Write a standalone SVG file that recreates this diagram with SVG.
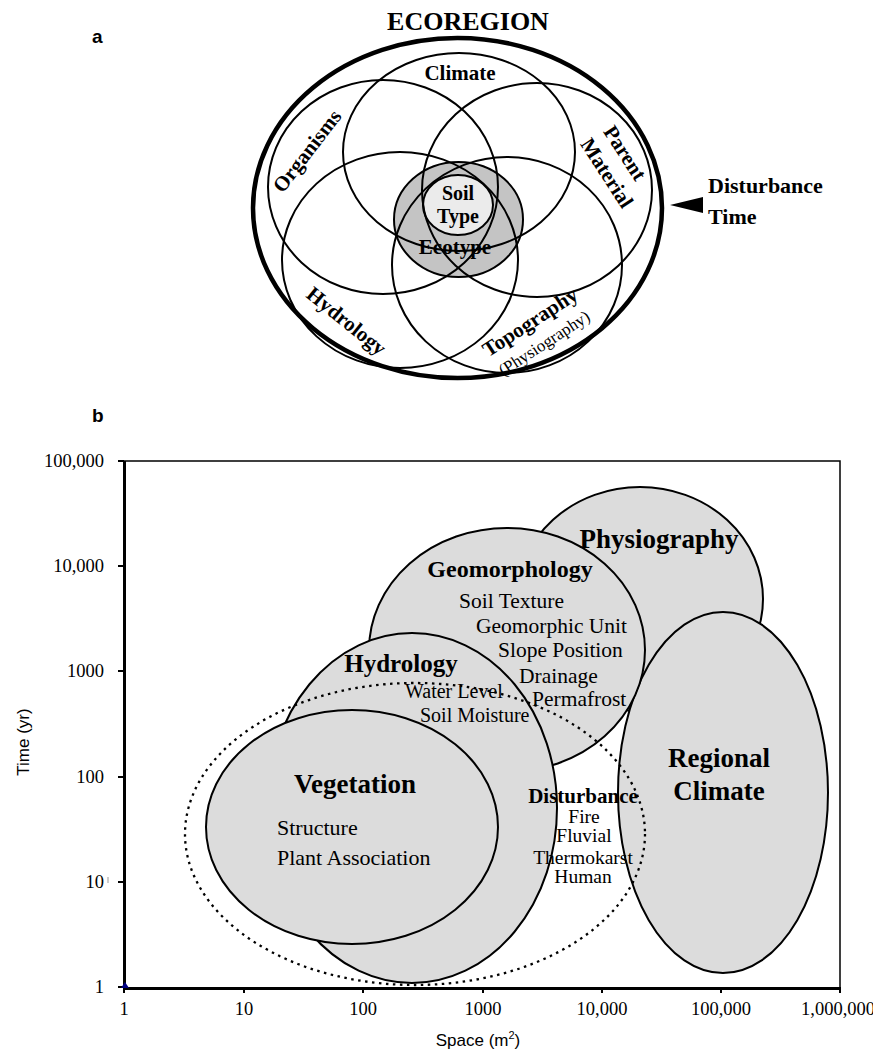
<svg xmlns="http://www.w3.org/2000/svg" width="873" height="1051" viewBox="0 0 873 1051">
<style>
.serif{font-family:"Liberation Serif","Times New Roman",serif;fill:#000}
.b{font-weight:bold}
.sans{font-family:"Liberation Sans",Arial,sans-serif;fill:#000}
.ring{fill:none;stroke:#000;stroke-width:2}
.blob{fill:#dcdcdc;stroke:#000;stroke-width:2}
.tick{stroke:#000;stroke-width:2}
.mid{text-anchor:middle}
.end{text-anchor:end}
</style>
<rect width="873" height="1051" fill="#fff"/>

<text class="sans b" x="92" y="43" font-size="19">a</text>
<text class="sans b" x="92" y="422" font-size="19">b</text>

<!-- Panel a -->
<g id="ecotype"><ellipse cx="458.5" cy="219.5" rx="64.5" ry="57.5" fill="#c4c4c4" stroke="#000" stroke-width="2"/></g>
<g id="soil-type"><ellipse cx="458" cy="205" rx="35" ry="30" fill="#ebebeb" stroke="#000" stroke-width="2"/></g>
<g id="climate"><ellipse class="ring" cx="459" cy="152" rx="116" ry="99"/></g>
<g id="organisms"><ellipse class="ring" cx="383" cy="187" rx="115" ry="107"/></g>
<g id="parent-material"><ellipse class="ring" cx="537" cy="190" rx="115" ry="107"/></g>
<g id="hydrology-a"><ellipse class="ring" cx="400" cy="260" rx="118" ry="108"/></g>
<g id="topography"><ellipse class="ring" cx="507" cy="265" rx="115" ry="108"/></g>
<g id="ecoregion"><ellipse cx="457.5" cy="208" rx="204.5" ry="170" fill="none" stroke="#000" stroke-width="4.5"/></g>

<g id="labels-a">
<text class="serif b mid" x="468" y="30" font-size="26">ECOREGION</text>
<text class="serif b mid" x="460" y="80" font-size="21">Climate</text>
<text class="serif b mid" font-size="21" transform="translate(307,151) rotate(-52.4)" y="7">Organisms</text>
<g transform="translate(616,163) rotate(57)">
<text class="serif b mid" x="-3.5" y="-6" font-size="21">Parent</text>
<text class="serif b mid" x="3.5" y="20" font-size="21">Material</text>
</g>
<text class="serif b mid" font-size="21" transform="translate(346.5,321) rotate(38.8)" y="7">Hydrology</text>
<text class="serif b mid" font-size="21" transform="translate(530,322) rotate(-33)" y="7">Topography</text>
<text class="serif mid" font-size="17" transform="translate(544,343) rotate(-33)" y="6">(Physiography)</text>
<text class="serif b mid" x="458" y="200" font-size="20">Soil</text>
<text class="serif b mid" x="458" y="223" font-size="20">Type</text>
<text class="serif b mid" x="455" y="254" font-size="21">Ecotype</text>
</g>

<g id="disturbance-time">
<polygon points="670,205 703,197 703,213" fill="#000"/>
<text class="serif b" x="708" y="193" font-size="22">Disturbance</text>
<text class="serif b" x="708" y="224" font-size="22">Time</text>
</g>

<!-- Panel b -->
<g id="physiography"><ellipse class="blob" cx="640" cy="599" rx="123" ry="112"/></g>
<g id="regional-climate"><ellipse class="blob" cx="723" cy="792.5" rx="105" ry="180.5"/></g>
<g id="geomorphology"><ellipse class="blob" cx="507" cy="650" rx="138" ry="122"/></g>
<g id="hydrology-b"><ellipse class="blob" cx="412" cy="808" rx="145" ry="175"/></g>
<g id="vegetation"><ellipse class="blob" cx="352" cy="827" rx="146" ry="117"/></g>

<g id="labels-b">
<text class="serif b mid" x="659" y="548" font-size="27">Physiography</text>
<text class="serif b mid" x="510" y="577" font-size="24">Geomorphology</text>
<text class="serif" x="459" y="608" font-size="21.5">Soil Texture</text>
<text class="serif" x="476" y="633" font-size="21.5">Geomorphic Unit</text>
<text class="serif" x="498" y="657" font-size="21.5">Slope Position</text>
<text class="serif" x="519" y="683" font-size="21.5">Drainage</text>
<text class="serif" x="532" y="706" font-size="21.5">Permafrost</text>
<text class="serif b mid" x="401" y="672" font-size="25">Hydrology</text>
<text class="serif" x="405" y="698" font-size="20">Water Level</text>
<text class="serif" x="420" y="722" font-size="20">Soil Moisture</text>
<text class="serif b mid" x="355" y="793" font-size="27">Vegetation</text>
<text class="serif" x="277" y="835" font-size="22">Structure</text>
<text class="serif" x="277" y="865" font-size="22">Plant Association</text>
<text class="serif b mid" x="583" y="803" font-size="21">Disturbance</text>
<text class="serif mid" x="584" y="823" font-size="19.5">Fire</text>
<text class="serif mid" x="584" y="842" font-size="19.5">Fluvial</text>
<text class="serif mid" x="583" y="864" font-size="19.5">Thermokarst</text>
<text class="serif mid" x="583" y="883" font-size="19.5">Human</text>
<text class="serif b mid" x="719" y="767" font-size="27">Regional</text>
<text class="serif b mid" x="719" y="800" font-size="27">Climate</text>
</g>

<g id="disturbance-extent"><ellipse cx="415" cy="834" rx="230" ry="151" fill="none" stroke="#000" stroke-width="2.3" stroke-dasharray="2.5 4.5"/></g>

<g id="axes">
<path d="M124,461 H840 V987" fill="none" stroke="#000" stroke-width="1.5"/>
<path d="M124.5,461 V988.5 H840" fill="none" stroke="#000" stroke-width="3"/>
<path class="tick" d="M118,461H124M118,566H124M118,671H124M118,777H124M118,882H124M118,987H124"/>
<path class="tick" d="M124,987V993M244,987V993M363,987V993M483,987V993M602,987V993M721,987V993M840,987V993"/>
<polygon points="125,982 121,988 129,988" fill="#000080"/>
<line x1="108" y1="877" x2="108" y2="883" stroke="#999" stroke-width="1"/>
</g>
<g id="axis-labels">
<text class="serif end" x="104" y="467" font-size="18.5">100,000</text>
<text class="serif end" x="104" y="572" font-size="18.5">10,000</text>
<text class="serif end" x="104" y="677" font-size="18.5">1000</text>
<text class="serif end" x="104" y="783" font-size="18.5">100</text>
<text class="serif end" x="104" y="888" font-size="18.5">10</text>
<text class="serif end" x="104" y="993" font-size="18.5">1</text>
<text class="serif mid" x="124" y="1015" font-size="18.5">1</text>
<text class="serif mid" x="244" y="1015" font-size="18.5">10</text>
<text class="serif mid" x="363" y="1015" font-size="18.5">100</text>
<text class="serif mid" x="483" y="1015" font-size="18.5">1000</text>
<text class="serif mid" x="602" y="1015" font-size="18.5">10,000</text>
<text class="serif mid" x="721" y="1015" font-size="18.5">100,000</text>
<text class="serif mid" x="838" y="1015" font-size="18.5">1,000,000</text>
<text class="sans mid" font-size="17" transform="translate(29,742) rotate(-90)">Time (yr)</text>
<text class="sans mid" x="478" y="1046" font-size="17">Space (m<tspan font-size="11" dy="-7">2</tspan><tspan dy="7">)</tspan></text>
</g>
</svg>
